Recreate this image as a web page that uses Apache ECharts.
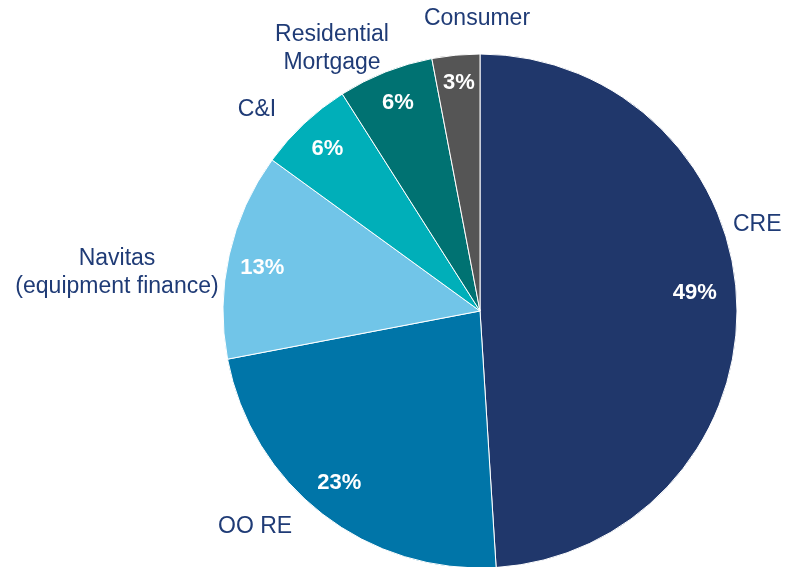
<!DOCTYPE html>
<html>
<head>
<meta charset="utf-8">
<script src="https://cdn.jsdelivr.net/npm/echarts@6/dist/echarts.min.js"></script>
<style>
  html, body { margin: 0; padding: 0; background: #fff; }
  #main { width: 785px; height: 567px; }
</style>
</head>
<body>
<div id="main"></div>
<script>
var names = ['CRE', 'OO RE', 'Navitas\n(equipment finance)', 'C&I', 'Residential\nMortgage', 'Consumer'];
var values = [49, 23, 13, 6, 6, 3];
var colors = ['#20376B', '#0075A8', '#71C5E8', '#00AFB9', '#007272', '#555555'];

// where the outside names sit: x, y, align
var namePos = [
  [733, 225, 'left'],
  [218, 527, 'left'],
  [117, 273, 'center'],
  [257, 110, 'center'],
  [332, 49, 'center'],
  [477, 19, 'center']
];
// small nudges for the percent labels
var pctShift = [[-8, -11], [-4, -4], [0, 6], [0, 0], [0, -1], [0, -6]];

var chart = echarts.init(document.getElementById('main'), null, { renderer: 'canvas' });

var data = [];
for (var i = 0; i < names.length; i++) {
  data.push({ name: names[i], value: values[i], itemStyle: { color: colors[i] } });
}

var option = {
  animation: false,
  series: [{
    type: 'pie',
    center: [480, 311],
    radius: [0, 257],
    startAngle: 90,
    clockwise: true,
    avoidLabelOverlap: false,
    itemStyle: { borderColor: '#fff', borderWidth: 1 },
    label: {
      show: true,
      position: 'outside',
      formatter: '{b}',
      fontFamily: 'Liberation Sans',
      fontSize: 23,
      lineHeight: 28,
      color: '#1F3B76',
      overflow: 'none'
    },
    labelLine: { show: false },
    labelLayout: function (p) {
      var pos = namePos[p.dataIndex];
      return { x: pos[0], y: pos[1], align: pos[2], verticalAlign: 'middle' };
    },
    emphasis: { disabled: true },
    data: data
  }, {
    type: 'pie',
    center: [480, 311],
    radius: [183, 257],
    startAngle: 90,
    clockwise: true,
    silent: true,
    avoidLabelOverlap: false,
    itemStyle: { color: 'rgba(0,0,0,0)' },
    label: {
      show: true,
      position: 'inside',
      formatter: '{c}%',
      fontFamily: 'Liberation Sans',
      fontWeight: 'bold',
      fontSize: 22,
      color: '#fff'
    },
    labelLayout: function (p) {
      var s = pctShift[p.dataIndex];
      return { dx: s[0], dy: s[1] };
    },
    labelLine: { show: false },
    data: values.map(function (v, i) { return { name: names[i], value: v }; })
  }]
};

chart.setOption(option);
</script>
</body>
</html>
